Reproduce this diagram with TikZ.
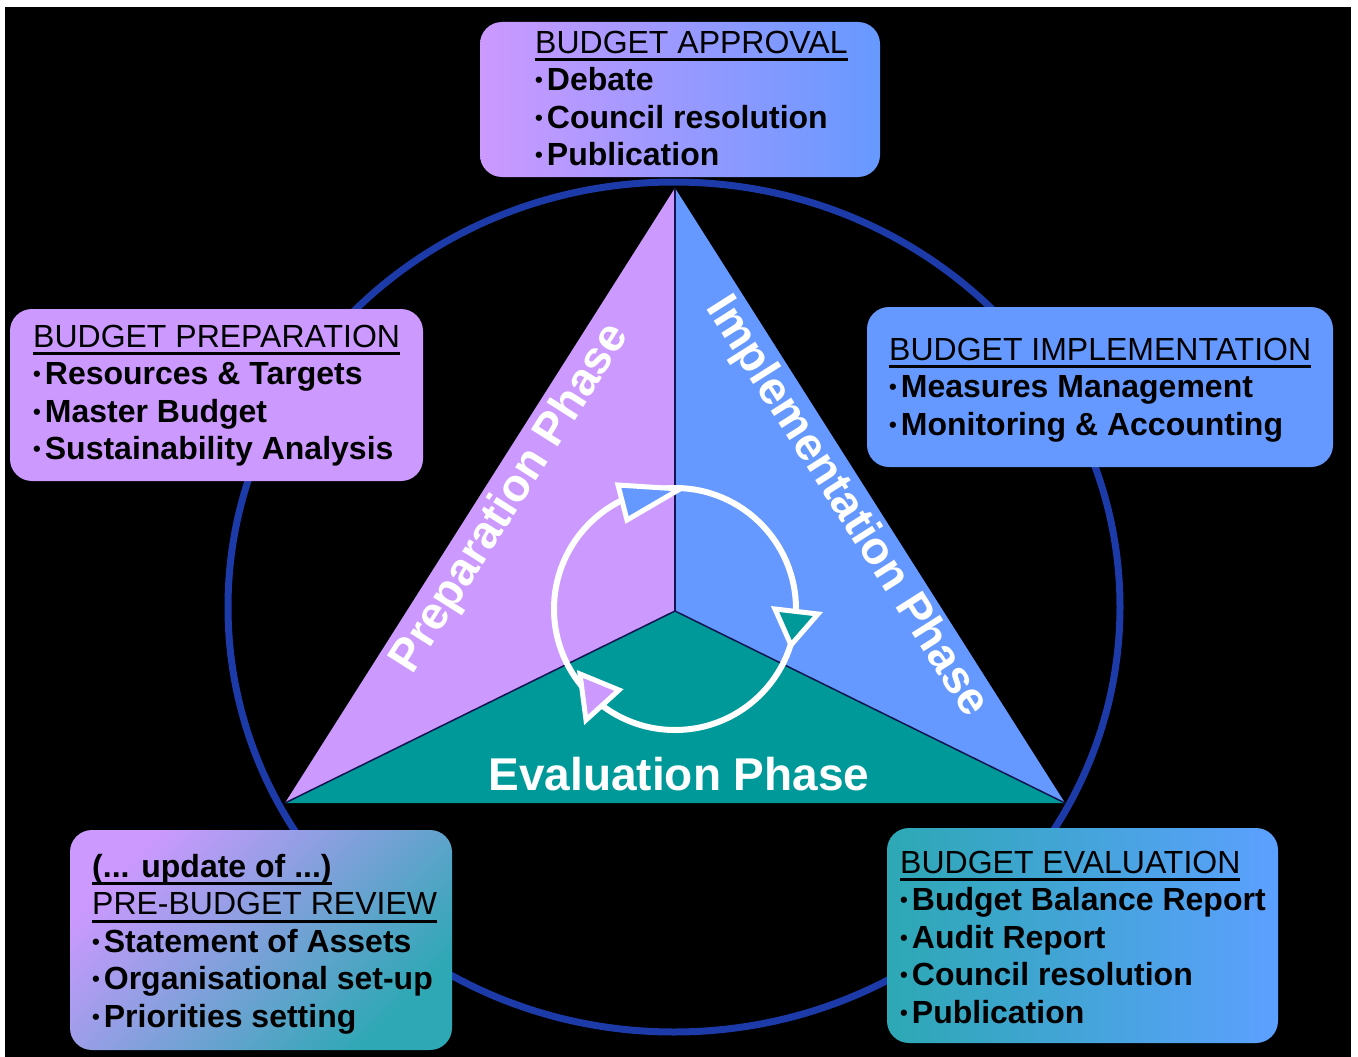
\documentclass[tikz,border=0pt]{standalone}
\usepackage{fontspec}
\setmainfont{Liberation Sans}

\definecolor{lavender}{RGB}{204,153,255}
\definecolor{phaseblue}{RGB}{102,153,255}
\definecolor{phaseteal}{RGB}{0,153,153}
\definecolor{ringblue}{RGB}{28,58,168}
\definecolor{evalteal}{RGB}{45,168,180}
\definecolor{evalblue}{RGB}{92,160,255}
\definecolor{divider}{RGB}{20,20,80}

% underlined heading with a heavy rule
\newcommand\headul[1]{\setbox0\hbox{#1}\rlap{\rule[-8pt]{\wd0}{3pt}}\box0}
% small list bullet
\newcommand\itemdot{{\fontsize{22}{22}\selectfont\raisebox{3pt}{\textbullet}}\kern4pt}

\begin{document}
\begin{tikzpicture}[x=1pt,y=-1pt,
  panel/.style={rounded corners=22pt, inner sep=0pt, outer sep=0pt},
  % anchored at the baseline of the last line
  boxtext/.style={anchor=base west, align=left, inner sep=0pt,
    font=\fontsize{32}{37.5}\selectfont\bfseries, text=black},
  phase/.style={text=white, inner sep=0pt,
    font=\fontsize{46}{50}\selectfont\bfseries},
  arrowtip/.style={draw=white, line width=5pt, line join=miter},
]
\useasboundingbox (0,0) rectangle (1358,1057);
\fill[white] (0,0) rectangle (1358,1057);
\fill[black] (5,7) rectangle (1351,1057);

% outer cycle
\draw[ringblue, line width=7pt] (674,607) ellipse [x radius=446, y radius=425];

% the three phases
\coordinate (apex) at (675,188);
\coordinate (bl) at (285,803);
\coordinate (br) at (1065,803);
\coordinate (mid) at (675,611);
\fill[lavender] (apex) -- (mid) -- (bl) -- cycle;
\fill[phaseblue] (apex) -- (mid) -- (br) -- cycle;
\fill[phaseteal] (bl) -- (mid) -- (br) -- cycle;
\draw[divider, line width=1.5pt] (mid) -- (apex);
\draw[divider, line width=1.5pt] (mid) -- (bl);
\draw[divider, line width=1.5pt] (mid) -- (br);

% inner cycle with three open arrowheads
\draw[white, line width=6pt] (mid) ++(0,-2) circle [radius=121];
\filldraw[arrowtip, fill=phaseblue] (618,485) -- (680,489) -- (627,520) -- cycle;
\filldraw[arrowtip, fill=phaseteal] (775,609) -- (818,614) -- (791,645) -- cycle;
\filldraw[arrowtip, fill=lavender] (580,674) -- (619,690) -- (586,720) -- cycle;

\node[phase, rotate=57.6] (prepphase) at (511,499) {Preparation Phase};
\node[phase, rotate=-57.6] (implphase) at (846,507) {Implementation Phase};
\node[phase, anchor=base] (evalphase) at (679,790) {Evaluation Phase};

% stage panels
\node[panel, left color=lavender, right color=phaseblue,
  minimum width=400pt, minimum height=155pt] (approvalbox) at (680,99.5) {};
\node[panel, fill=lavender,
  minimum width=413pt, minimum height=172pt] (prepbox) at (216.5,395) {};
\node[panel, fill=phaseblue,
  minimum width=466pt, minimum height=160pt] (implbox) at (1100,387) {};
\node[panel, top color=lavender, bottom color=evalteal, shading angle=45,
  minimum width=382pt, minimum height=220pt] (reviewbox) at (261,940) {};
\node[panel, left color=evalteal, right color=evalblue,
  minimum width=391pt, minimum height=215pt] (evalbox) at (1082.5,935.5) {};

\node[boxtext] (approvaltext) at (535,165.5)
  {\headul{\mdseries BUDGET APPROVAL}\\
   \itemdot Debate\\
   \itemdot Council resolution\\
   \itemdot Publication};
\node[boxtext] (preptext) at (33,459.5)
  {\headul{\mdseries BUDGET PREPARATION}\\
   \itemdot Resources \& Targets\\
   \itemdot Master Budget\\
   \itemdot Sustainability Analysis};
\node[boxtext] (impltext) at (889,435)
  {\headul{\mdseries BUDGET IMPLEMENTATION}\\
   \itemdot Measures Management\\
   \itemdot Monitoring \& Accounting};
\node[boxtext] (reviewtext) at (92,1027)
  {\headul{(... update of ...)}\\
   \headul{\mdseries PRE-BUDGET REVIEW}\\
   \itemdot Statement of Assets\\
   \itemdot Organisational set-up\\
   \itemdot Priorities setting};
\node[boxtext] (evaltext) at (900,1023)
  {\headul{\mdseries BUDGET EVALUATION}\\
   \itemdot Budget Balance Report\\
   \itemdot Audit Report\\
   \itemdot Council resolution\\
   \itemdot Publication};
\end{tikzpicture}
\end{document}
